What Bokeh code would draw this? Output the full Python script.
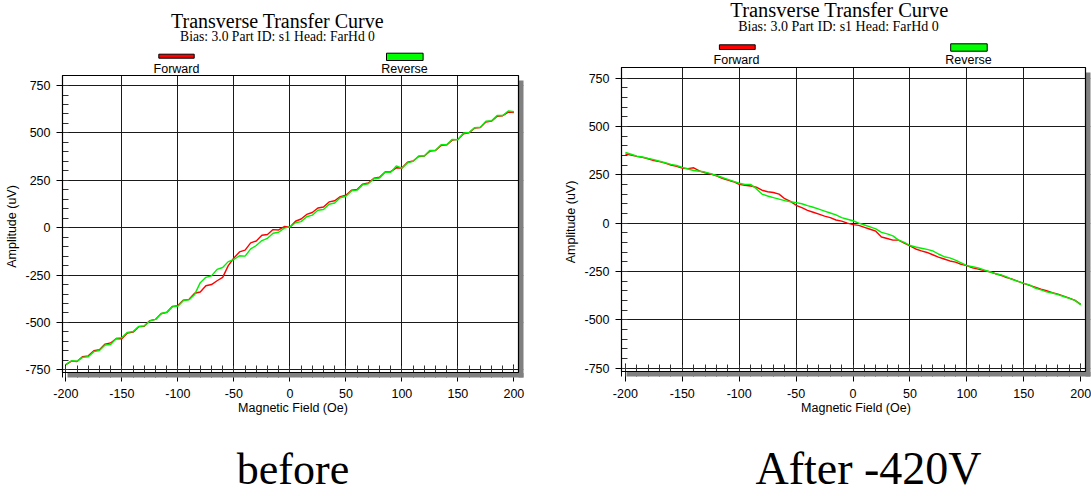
from bokeh.plotting import figure
from bokeh.layouts import row, column
from bokeh.models import Range1d, FixedTicker, NumeralTickFormatter
from bokeh.core.properties import value
from bokeh.embed import file_html
from bokeh.resources import INLINE

# ---------------- data ----------------
field = list(range(-200, 205, 5))   # Magnetic Field (Oe)

before_forward = [-722, -704, -706, -680, -676, -649, -644, -614, -608, -585,
                  -586, -556, -551, -522, -520, -490, -484, -454, -447, -416,
                  -411, -382, -378, -346, -339, -306, -300, -280, -262, -200,
                  -160, -128, -118, -80, -70, -40, -36, -10, -12, 6,
                  2,
                  34, 46, 70, 80, 104, 109, 136, 142, 164, 171,
                  198, 202, 230, 236, 261, 266, 294, 296, 316, 315,
                  346, 352, 376, 378, 404, 407, 434, 437, 462, 466,
                  496, 501, 526, 529, 558, 562, 588, 591, 610, 608]
before_reverse = [-722, -702, -704, -684, -681, -654, -648, -619, -616, -584,
                  -580, -552, -548, -521, -518, -492, -484, -453, -446, -418,
                  -414, -384, -380, -352, -290, -262, -254, -220, -210, -179,
                  -168, -148, -150, -112, -94, -68, -56, -29, -24, -2,
                  4,
                  26, 32, 58, 66, 92, 96, 124, 130, 158, 166,
                  194, 198, 226, 232, 258, 262, 292, 292, 326, 314,
                  342, 350, 378, 378, 408, 408, 438, 438, 466, 464,
                  500, 502, 528, 530, 562, 564, 592, 592, 616, 612]
after_forward = [357, 352, 345, 340, 333, 324, 318, 310, 300, 294,
                 284, 282, 286, 270, 260, 254, 244, 232, 222, 214,
                 200, 196, 192, 186, 170, 162, 158, 150, 126, 112,
                 92, 80, 66, 56, 46, 36, 28, 16, 10, 0,
                 -8,
                 -12, -22, -32, -42, -72, -80, -88, -88, -104, -118,
                 -134, -144, -152, -164, -176, -186, -196, -202, -214, -220,
                 -232, -238, -246, -252, -262, -270, -282, -290, -302, -312,
                 -322, -332, -342, -350, -360, -368, -378, -388, -400, -420]
after_reverse = [365, 356, 346, 342, 334, 328, 320, 312, 304, 298,
                 288, 280, 272, 268, 264, 256, 246, 236, 226, 216,
                 206, 200, 200, 178, 150, 140, 132, 124, 116, 110,
                 106, 100, 90, 82, 72, 62, 52, 42, 28, 20,
                 12,
                 0, -10, -20, -30, -48, -56, -66, -88, -100, -116,
                 -124, -130, -136, -144, -160, -174, -180, -192, -206, -220,
                 -226, -232, -242, -252, -262, -268, -278, -292, -302, -312,
                 -320, -336, -346, -356, -362, -370, -380, -390, -400, -424]

x_ticks = [-200, -150, -100, -50, 0, 50, 100, 150, 200]
x_minor = list(range(-200, 210, 10))
x_grid = [-150, -100, -50, 0, 50, 100, 150]
y_ticks = [-750, -500, -250, 0, 250, 500, 750]
y_minor = list(range(-750, 800, 50))

series_names = ["Forward", "Reverse"]
title_text = "Transverse Transfer Curve"
subtitle_text = "Bias: 3.0 Part ID: s1 Head: FarHd 0"
x_label = "Magnetic Field (Oe)"
y_label = "Amplitude (uV)"
captions = ["before", "After -420V"]

RED = "#ff0000"
GREEN = "#00f000"
BAR_GREEN = "#00ff00"
SHADOW = "#808080"
SANS = "Liberation Sans"
SERIF = "Liberation Serif"
SHADE = 5  # px offset of the drop shadow


def blank(width, height, c):
    """Figure whose frame spans the same columns as the chart frame, used
    for the header / footer texts (y axis in pixels from the top)."""
    f = figure(width=width, height=height,
               x_range=Range1d(0, c["fw"] + SHADE), y_range=Range1d(height, 0),
               output_backend="svg", toolbar_location=None,
               x_axis_location=None, y_axis_location=None,
               min_border=0, min_border_left=c["bl"], min_border_right=c["br"],
               min_border_top=0, min_border_bottom=0)
    f.title.visible = False
    f.grid.visible = False
    f.outline_line_color = None
    f.background_fill_color = "white"
    f.border_fill_color = "white"
    return f


def make_chart(fwd, rev, c):
    fw, fh = c["fw"], c["fh"]
    x0, x1 = c["xr"]
    y0, y1 = c["yr"]
    ux = (x1 - x0) / fw          # data units per pixel
    uy = (y1 - y0) / fh
    x1e = x1 + SHADE * ux        # frame extended to hold the shadow
    y0e = y0 - SHADE * uy

    p = figure(width=c["width"], height=fh + SHADE + c["bb"],
               x_range=Range1d(x0, x1e), y_range=Range1d(y0e, y1),
               output_backend="svg", toolbar_location=None,
               min_border=0, min_border_left=c["bl"], min_border_right=c["br"],
               min_border_top=0, min_border_bottom=c["bb"])
    p.title.visible = False
    p.background_fill_color = "white"
    p.border_fill_color = "white"
    p.outline_line_color = None

    fs = c["fs"]
    for ax in (p.xaxis[0], p.yaxis[0]):
        ax.axis_line_color = "black"
        ax.major_tick_line_color = "black"
        ax.minor_tick_line_color = "#333333"
        ax.major_label_text_font = SANS
        ax.major_label_text_font_size = fs
        ax.major_label_text_color = "black"
        ax.axis_label_text_font = SANS
        ax.axis_label_text_font_size = fs
        ax.axis_label_text_font_style = "normal"
        ax.axis_label_text_color = "black"
        ax.formatter = NumeralTickFormatter(format="0")

    p.xaxis.ticker = FixedTicker(ticks=x_ticks, minor_ticks=x_minor)
    p.xaxis.axis_line_color = None
    p.xaxis.major_tick_out = c["xto"]
    p.xaxis.major_tick_in = SHADE + 8
    p.xaxis.minor_tick_in = SHADE + 7
    p.xaxis.minor_tick_out = 0
    p.xaxis.major_label_standoff = c["xls"]
    p.xaxis.axis_label = x_label
    p.xaxis.axis_label_standoff = 0

    p.yaxis.ticker = FixedTicker(ticks=y_ticks, minor_ticks=y_minor)
    p.yaxis.major_tick_out = 6
    p.yaxis.major_tick_in = 0
    p.yaxis.minor_tick_in = 6
    p.yaxis.minor_tick_out = 0
    p.yaxis.major_label_standoff = 6
    p.yaxis.axis_label = y_label
    p.yaxis.axis_label_standoff = 3

    p.xgrid.ticker = FixedTicker(ticks=x_grid)
    p.ygrid.ticker = FixedTicker(ticks=y_ticks)
    for g in (p.xgrid[0], p.ygrid[0]):
        g.grid_line_color = "#1a1a1a"
        g.grid_line_width = 1
        g.grid_line_alpha = 1

    p.line(field, fwd, line_color=RED, line_width=1.4)
    p.line(field, rev, line_color=GREEN, line_width=1.4)

    # drop shadow (right and bottom strips) and the plot box outline
    p.quad(left=[x1, x0 + SHADE * ux], right=[x1e, x1e],
           top=[y1 - SHADE * uy, y0 - 0.6 * uy], bottom=[y0e, y0e],
           fill_color=SHADOW, line_color=None, level="overlay")
    p.quad(left=[x0], right=[x1], top=[y1], bottom=[y0],
           fill_color=None, line_color="black", line_width=1.2, level="overlay")
    return p


def make_panel(fwd, rev, c):
    W = c["width"]
    chart = make_chart(fwd, rev, c)
    ch = c["fh"] + SHADE + c["bb"]

    head = blank(W, c["ht"], c)
    head.text(x=[c["tx"]], y=[c["ty"]], text=[title_text],
              text_font=value(SERIF), text_font_size=value(c["tfs"]),
              text_align="center", text_baseline="alphabetic", text_color="black")
    head.text(x=[c["sx"]], y=[c["sy"]], text=[subtitle_text],
              text_font=value(SERIF), text_font_size=value(c["sfs"]),
              text_align="center", text_baseline="alphabetic", text_color="black")
    bl_, br_, bt_, bb_ = zip(*c["bars"])
    head.quad(left=list(bl_), right=list(br_), top=list(bt_), bottom=list(bb_),
              fill_color=[RED, BAR_GREEN], line_color="black", line_width=1)
    head.text(x=c["lx"], y=[c["ly"]] * 2, text=series_names,
              text_font=value(SANS), text_font_size=value(c["fs"]),
              text_align="center", text_baseline="alphabetic", text_color="black")

    hf = c["H"] - c["ht"] - ch
    foot = blank(W, hf, c)
    foot.text(x=[c["cx"]], y=[c["cy"] - c["ht"] - ch], text=[c["caption"]],
              text_font=value(SERIF), text_font_size=value(c["cfs"]),
              text_align="center", text_baseline="alphabetic", text_color="black")
    return column(head, chart, foot, spacing=0)


# positions below are in page pixels; the header is measured from the page top,
# the caption anchor (cy) too
left_cfg = dict(width=545, H=496, bl=62, br=22, fw=456, fh=297, bb=42, ht=75,
                xr=(-203.0, 204.1), yr=(-764, 803), fs="12.5px", xto=4, xls=7,
                tx=215, ty=20.7, tfs="20px", sx=215, sy=36, sfs="13.6px",
                bars=[(96.3, 131.7, 53.7, 57.7), (324, 360.6, 52.7, 60)],
                lx=[114, 342], ly=68.4,
                cx=230.5, cy=468.6, caption=captions[0], cfs="44px")
right_cfg = dict(width=546, H=496, bl=76, br=1, fw=464, fh=304, bb=42, ht=67,
                 xr=(-203.4, 204.2), yr=(-768, 805), fs="12.5px", xto=5, xls=7,
                 tx=218, ty=9.6, tfs="20.5px", sx=217, sy=25.6, sfs="14px",
                 bars=[(97.9, 133.7, 44.3, 49), (329.2, 365.7, 43.3, 50.7)],
                 lx=[115, 347], ly=59.9,
                 cx=247, cy=468, caption=captions[1], cfs="46px")

left = make_panel(before_forward, before_reverse, left_cfg)
right = make_panel(after_forward, after_reverse, right_cfg)

layout = row(left, right, spacing=0)
open("out.html", "w").write(file_html(layout, INLINE))
